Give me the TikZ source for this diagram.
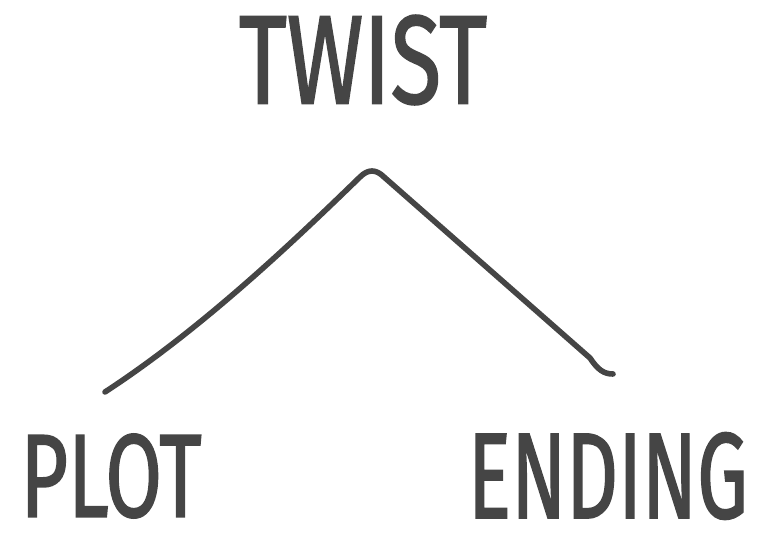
\documentclass[tikz,border=0pt]{standalone}
\usepackage{fontspec}
\newfontfamily\wordfont[FakeBold=1.6]{Fira Sans}
\definecolor{ink}{HTML}{454545}

\begin{document}
\begin{tikzpicture}[x=0.75pt,y=-0.75pt]
	% page frame, as in the reference
	\useasboundingbox (0,0) rectangle (769,539);
	\tikzset{word/.style={inner sep=0pt, text=ink, font=\wordfont}}
	% the three words
	\node[word] (twist) at (363,60) {\resizebox{186pt}{66pt}{TWIST}};
	\node[word] (plot) at (111,476) {\resizebox{136pt}{62pt}{PLOT}};
	\node[word] (ending) at (608,476) {\resizebox{210pt}{64pt}{ENDING}};
	% the peak line
	\coordinate (left) at (105,392);
	\coordinate (peak) at (372,170);
	\coordinate (right) at (613,374);
	\draw[ink, line width=4.2pt, line cap=round, line join=round]
		(left) .. controls (200,330) and (290,245) .. (360,177)
		.. controls (368,169) and (376,169) .. (384,177)
		-- (590,358) .. controls (598,370) and (604,374) .. (right);
\end{tikzpicture}
\end{document}
